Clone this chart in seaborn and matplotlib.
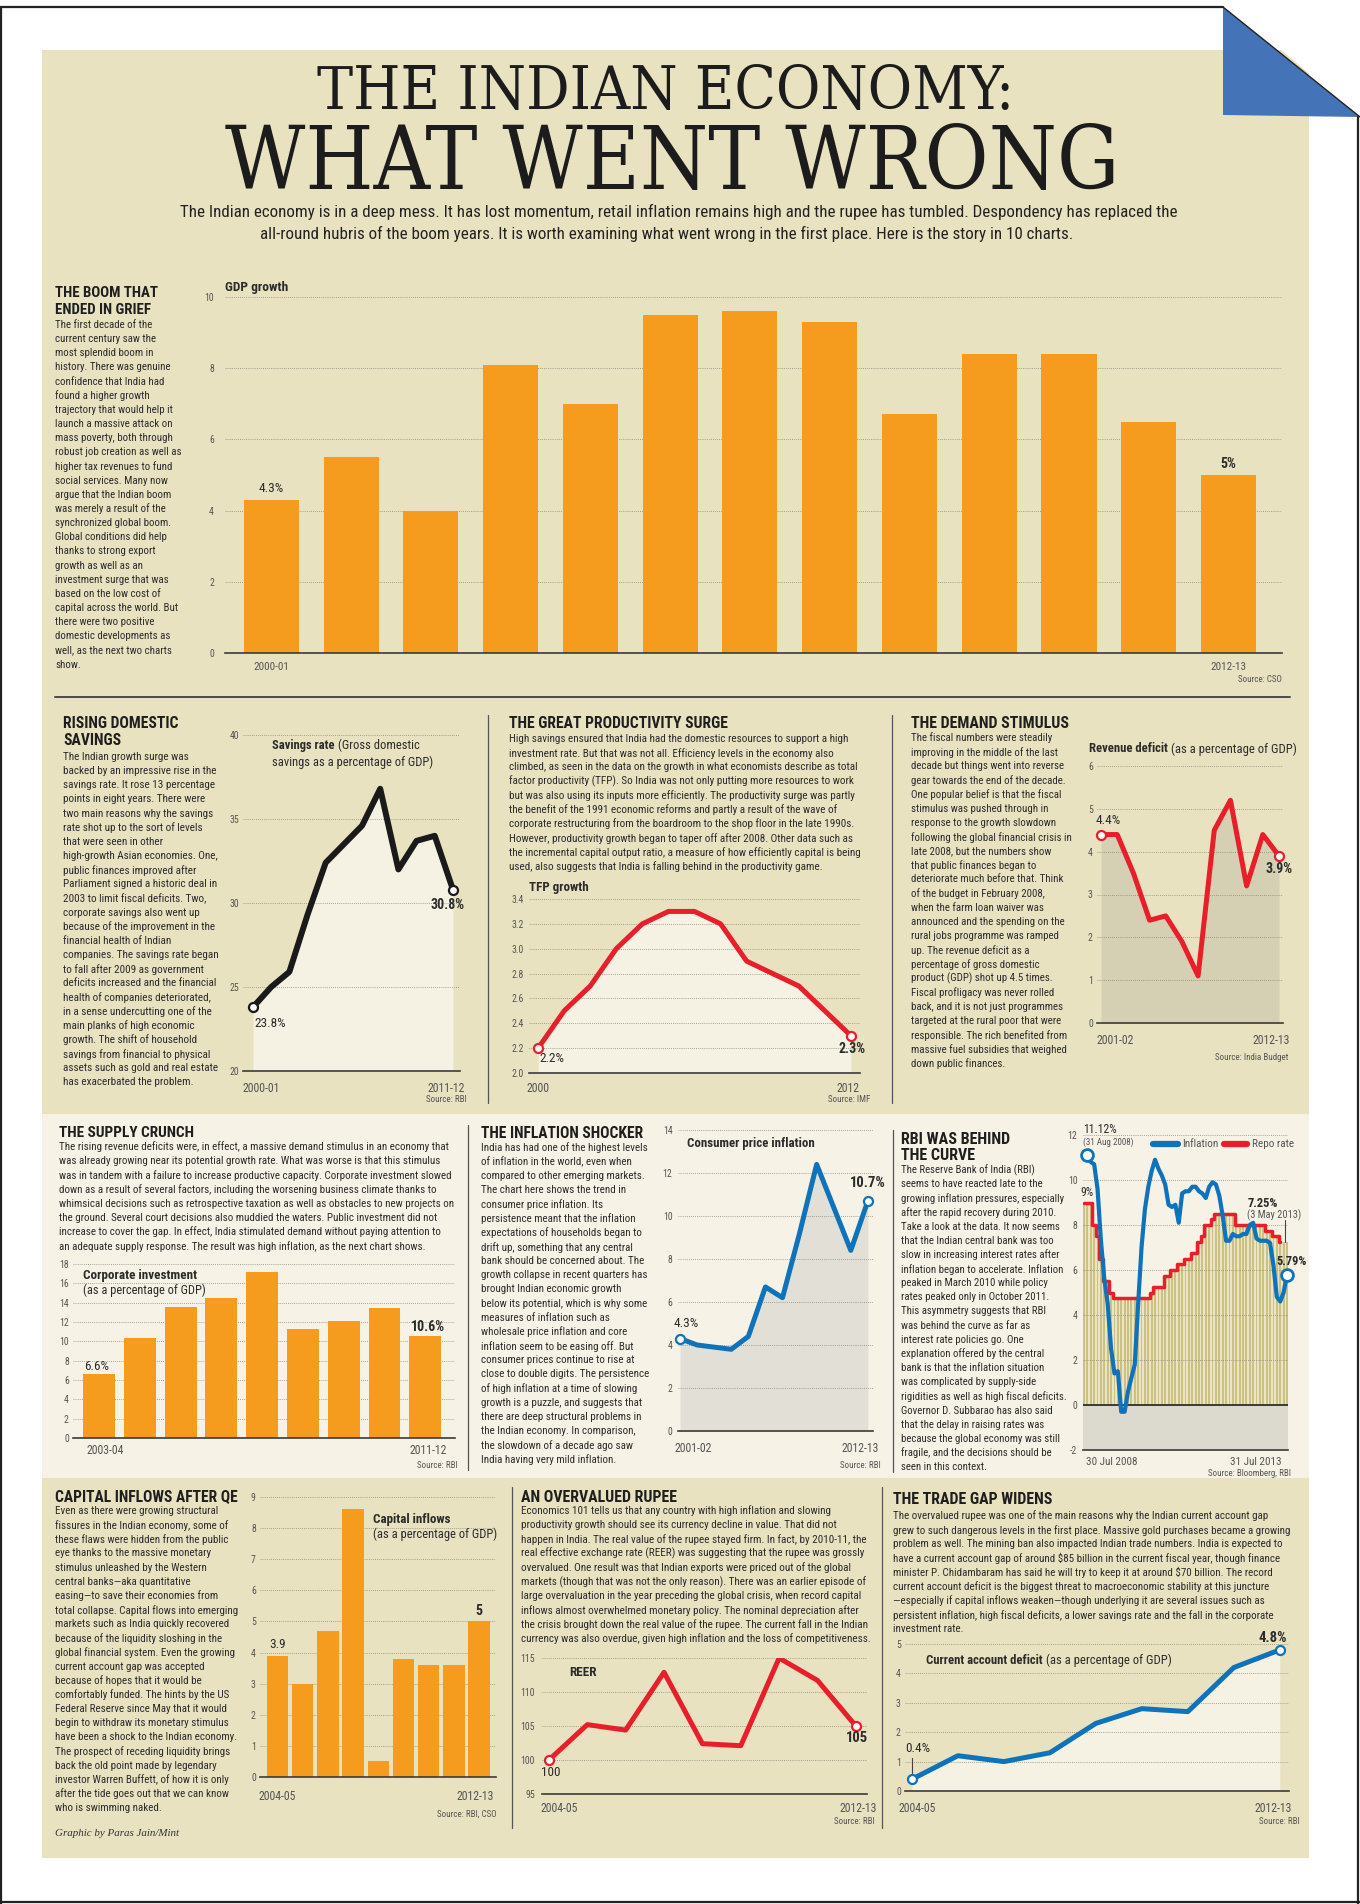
import os
import numpy as np
import pandas as pd
import matplotlib
matplotlib.use("Agg")
import matplotlib.pyplot as plt
import seaborn as sns
from matplotlib import font_manager as fm
from matplotlib.font_manager import FontProperties
from matplotlib.patches import Rectangle, Polygon
from matplotlib.lines import Line2D

# ---------------- data ----------------
gdp_years = ["2000-01", "2001-02", "2002-03", "2003-04", "2004-05", "2005-06", "2006-07",
             "2007-08", "2008-09", "2009-10", "2010-11", "2011-12", "2012-13"]
gdp_growth = [4.3, 5.5, 4.0, 8.1, 7.0, 9.5, 9.6, 9.3, 6.7, 8.4, 8.4, 6.5, 5.0]

savings_years = gdp_years[:12]
savings_rate = [23.8, 25.0, 25.9, 29.3, 32.4, 33.5, 34.6, 36.8, 32.0, 33.7, 34.0, 30.8]

tfp_years = [str(y) for y in range(2000, 2013)]
tfp_growth = [2.2, 2.5, 2.7, 3.0, 3.2, 3.3, 3.3, 3.2, 2.9, 2.8, 2.7, 2.5, 2.3]

deficit_years = gdp_years[1:]
revenue_deficit = [4.4, 4.4, 3.5, 2.4, 2.5, 1.9, 1.1, 4.5, 5.2, 3.2, 4.4, 3.9]

invest_years = gdp_years[3:12]
corp_investment = [6.6, 10.3, 13.6, 14.5, 17.2, 11.3, 12.1, 13.4, 10.6]

cpi_years = gdp_years[1:]
cpi_inflation = [4.3, 4.0, 3.9, 3.8, 4.4, 6.7, 6.2, 9.2, 12.4, 10.4, 8.4, 10.7]

rbi_months = pd.period_range("2008-07", "2013-07", freq="M")
repo_rate = [9.0, 9.0, 9.0, 8.0, 7.5, 6.5, 5.5, 5.5, 5.0, 4.75, 4.75, 4.75, 4.75, 4.75, 4.75,
             4.75, 4.75, 4.75, 4.75, 4.75, 5.0, 5.25, 5.25, 5.25, 5.75, 5.75, 6.0, 6.0, 6.25,
             6.25, 6.5, 6.5, 6.75, 6.75, 7.25, 7.5, 8.0, 8.0, 8.25, 8.5, 8.5, 8.5, 8.5, 8.5,
             8.5, 8.0, 8.0, 8.0, 8.0, 8.0, 8.0, 8.0, 8.0, 8.0, 7.75, 7.75, 7.5, 7.5, 7.25,
             7.25, 7.25]
# monthly inflation from Aug 2008
rbi_inflation = [11.12, 10.8, 10.7, 9.6, 7.3, 5.6, 4.5, 2.5, 1.4, 1.5, -0.3, -0.3, 0.6, 1.2,
                 1.8, 4.5, 7.0, 8.7, 9.7, 10.4, 10.9, 10.5, 10.2, 9.8, 8.9, 8.8, 8.9, 8.1,
                 9.4, 9.5, 9.5, 9.7, 9.7, 9.5, 9.4, 9.2, 9.7, 9.9, 9.8, 9.3, 8.4, 7.3, 7.3,
                 7.6, 7.5, 7.5, 7.6, 7.6, 8.0, 8.1, 7.4, 7.3, 7.3, 7.3, 7.2, 6.2, 4.8, 4.6,
                 5.0, 5.79]

flow_years = gdp_years[4:]
capital_inflows = [3.9, 3.0, 4.7, 8.6, 0.5, 3.8, 3.6, 3.6, 5.0]
reer = [100, 105.2, 104.4, 112.9, 102.4, 102.1, 115.0, 111.7, 105.0]
cad = [0.4, 1.2, 1.0, 1.3, 2.3, 2.8, 2.7, 4.2, 4.8]

# ---------------- text ----------------
gdp_text = """The first decade of the
current century saw the
most splendid boom in
history. There was genuine
confidence that India had
found a higher growth
trajectory that would help it
launch a massive attack on
mass poverty, both through
robust job creation as well as
higher tax revenues to fund
social services. Many now
argue that the Indian boom
was merely a result of the
synchronized global boom.
Global conditions did help
thanks to strong export
growth as well as an
investment surge that was
based on the low cost of
capital across the world. But
there were two positive
domestic developments as
well, as the next two charts
show.""".split("\n")

savings_text = """The Indian growth surge was
backed by an impressive rise in the
savings rate. It rose 13 percentage
points in eight years. There were
two main reasons why the savings
rate shot up to the sort of levels
that were seen in other
high-growth Asian economies. One,
public finances improved after
Parliament signed a historic deal in
2003 to limit fiscal deficits. Two,
corporate savings also went up
because of the improvement in the
financial health of Indian
companies. The savings rate began
to fall after 2009 as government
deficits increased and the financial
health of companies deteriorated,
in a sense undercutting one of the
main planks of high economic
growth. The shift of household
savings from financial to physical
assets such as gold and real estate
has exacerbated the problem.""".split("\n")

tfp_text = """High savings ensured that India had the domestic resources to support a high
investment rate. But that was not all. Efficiency levels in the economy also
climbed, as seen in the data on the growth in what economists describe as total
factor productivity (TFP). So India was not only putting more resources to work
but was also using its inputs more efficiently. The productivity surge was partly
the benefit of the 1991 economic reforms and partly a result of the wave of
corporate restructuring from the boardroom to the shop floor in the late 1990s.
However, productivity growth began to taper off after 2008. Other data such as
the incremental capital output ratio, a measure of how efficiently capital is being
used, also suggests that India is falling behind in the productivity game.""".split("\n")

demand_text = """The fiscal numbers were steadily
improving in the middle of the last
decade but things went into reverse
gear towards the end of the decade.
One popular belief is that the fiscal
stimulus was pushed through in
response to the growth slowdown
following the global financial crisis in
late 2008, but the numbers show
that public finances began to
deteriorate much before that. Think
of the budget in February 2008,
when the farm loan waiver was
announced and the spending on the
rural jobs programme was ramped
up. The revenue deficit as a
percentage of gross domestic
product (GDP) shot up 4.5 times.
Fiscal profligacy was never rolled
back, and it is not just programmes
targeted at the rural poor that were
responsible. The rich benefited from
massive fuel subsidies that weighed
down public finances.""".split("\n")

supply_text = """The rising revenue deficits were, in effect, a massive demand stimulus in an economy that
was already growing near its potential growth rate. What was worse is that this stimulus
was in tandem with a failure to increase productive capacity. Corporate investment slowed
down as a result of several factors, including the worsening business climate thanks to
whimsical decisions such as retrospective taxation as well as obstacles to new projects on
the ground. Several court decisions also muddied the waters. Public investment did not
increase to cover the gap. In effect, India stimulated demand without paying attention to
an adequate supply response. The result was high inflation, as the next chart shows.""".split("\n")

inflation_text = """India has had one of the highest levels
of inflation in the world, even when
compared to other emerging markets.
The chart here shows the trend in
consumer price inflation. Its
persistence meant that the inflation
expectations of households began to
drift up, something that any central
bank should be concerned about. The
growth collapse in recent quarters has
brought Indian economic growth
below its potential, which is why some
measures of inflation such as
wholesale price inflation and core
inflation seem to be easing off. But
consumer prices continue to rise at
close to double digits. The persistence
of high inflation at a time of slowing
growth is a puzzle, and suggests that
there are deep structural problems in
the Indian economy. In comparison,
the slowdown of a decade ago saw
India having very mild inflation.""".split("\n")

rbi_text = """The Reserve Bank of India (RBI)
seems to have reacted late to the
growing inflation pressures, especially
after the rapid recovery during 2010.
Take a look at the data. It now seems
that the Indian central bank was too
slow in increasing interest rates after
inflation began to accelerate. Inflation
peaked in March 2010 while policy
rates peaked only in October 2011.
This asymmetry suggests that RBI
was behind the curve as far as
interest rate policies go. One
explanation offered by the central
bank is that the inflation situation
was complicated by supply-side
rigidities as well as high fiscal deficits.
Governor D. Subbarao has also said
that the delay in raising rates was
because the global economy was still
fragile, and the decisions should be
seen in this context.""".split("\n")

capital_text = """Even as there were growing structural
fissures in the Indian economy, some of
these flaws were hidden from the public
eye thanks to the massive monetary
stimulus unleashed by the Western
central banks\u2014aka quantitative
easing\u2014to save their economies from
total collapse. Capital flows into emerging
markets such as India quickly recovered
because of the liquidity sloshing in the
global financial system. Even the growing
current account gap was accepted
because of hopes that it would be
comfortably funded. The hints by the US
Federal Reserve since May that it would
begin to withdraw its monetary stimulus
have been a shock to the Indian economy.
The prospect of receding liquidity brings
back the old point made by legendary
investor Warren Buffett, of how it is only
after the tide goes out that we can know
who is swimming naked.""".split("\n")

reer_text = """Economics 101 tells us that any country with high inflation and slowing
productivity growth should see its currency decline in value. That did not
happen in India. The real value of the rupee stayed firm. In fact, by 2010-11, the
real effective exchange rate (REER) was suggesting that the rupee was grossly
overvalued. One result was that Indian exports were priced out of the global
markets (though that was not the only reason). There was an earlier episode of
large overvaluation in the year preceding the global crisis, when record capital
inflows almost overwhelmed monetary policy. The nominal depreciation after
the crisis brought down the real value of the rupee. The current fall in the Indian
currency was also overdue, given high inflation and the loss of competitiveness.""".split("\n")

trade_text = """The overvalued rupee was one of the main reasons why the Indian current account gap
grew to such dangerous levels in the first place. Massive gold purchases became a growing
problem as well. The mining ban also impacted Indian trade numbers. India is expected to
have a current account gap of around $85 billion in the current fiscal year, though finance
minister P. Chidambaram has said he will try to keep it at around $70 billion. The record
current account deficit is the biggest threat to macroeconomic stability at this juncture
\u2014especially if capital inflows weaken\u2014though underlying it are several issues such as
persistent inflation, high fiscal deficits, a lower savings rate and the fall in the corporate
investment rate.""".split("\n")

# ---------------- fonts ----------------
BAD = ("italic", "oblique", "semi", "extra", "black", "light", "medium", "thin", "demi", "ultra")


def find_font(prefs, bold=False, bad=BAD):
    files = sorted({f.fname for f in fm.fontManager.ttflist})
    for p in prefs:
        for fn in files:
            b = os.path.basename(fn).lower().replace(" ", "").replace("_", "")
            if p in b and not any(k in b for k in bad) and (("bold" in b) == bold):
                return fn
    return None


sans_r = sans_b = None
for p in ["robotocondensed", "notosans-condensed", "opensanscondensed", "opensans-condensed",
          "liberationsansnarrow", "dejavusanscondensed"]:
    r, b = find_font([p]), find_font([p], bold=True)
    if r and b:
        sans_r, sans_b = r, b
        break
serif_r = (find_font(["notoserif-extracondensed."], bad=("italic", "bold", "light", "medium",
                                                          "black", "thin", "semi"))
           or find_font(["notoserif-condensed", "dejavuserifcondensed", "liberationserif-regular"]))

# ---------------- colours ----------------
W, H = 1360, 1904
BEIGE = "#e8e2c1"
LIGHT = "#f6f3e6"
PALE = "#f5f2e3"
ORANGE = "#f59c1f"
RED = "#e81f2b"
BLUE = "#0f73bb"
TXT = "#2b2b2b"
GREY = "#555555"

sns.set_theme(style="white")
plt.rcParams["font.family"] = ["Liberation Sans", "DejaVu Sans"]

fig = plt.figure(figsize=(W / 100, H / 100), dpi=100, facecolor="white")
R = fig.canvas.get_renderer()


def fx(x):
    return x / W


def fy(y):
    return 1 - y / H


def fp(bold=False, size=8.0):
    f = sans_b if bold else sans_r
    if f:
        return FontProperties(fname=f, size=size)
    return FontProperties(family="Liberation Sans", weight="bold" if bold else "normal", size=size)


def put(x, y, s, size=8.0, bold=False, ha="left", va="center", color=TXT, width=None, prop=None):
    t = fig.text(fx(x), fy(y), s, fontproperties=prop if prop is not None else fp(bold, size),
                 ha=ha, va=va, color=color, parse_math=False, zorder=5)
    t.set_fontsize(size)
    if width:
        t.set_fontsize(size * width / t.get_window_extent(R).width)
    return t


def block(x, y, lines, width, size=8.5, gap=14.15, bold=False, color=TXT):
    ts = [put(x, y + i * gap, s, size, bold=bold, color=color) for i, s in enumerate(lines)]
    k = min(width / max(t.get_window_extent(R).width for t in ts), 1.35)
    for t in ts:
        t.set_fontsize(size * k)
    return size * k


def rich(x, y, parts, size, width, color=TXT):
    ts = [put(x, y, s, size, bold=b, color=color) for s, b in parts]
    ws = [t.get_window_extent(R).width for t in ts]
    gap = 0.25 * size * 100 / 72
    k = width / (sum(ws) + gap * (len(ws) - 1))
    cx = x
    for t, w in zip(ts, ws):
        t.set_fontsize(size * k)
        t.set_x(fx(cx))
        cx += (w + gap) * k
    return size * k


def make_ax(l, t, r, b):
    ax = fig.add_axes([fx(l), fy(b), (r - l) / W, (b - t) / H])
    ax.set_facecolor("none")
    return ax


def style_ax(ax, xlim, ylim, yticks, n, pad=3, ysize=7, fmt="{:g}"):
    ax.set_xlim(*xlim)
    ax.set_ylim(*ylim)
    ax.set_xticks(range(n))
    ax.set_xticklabels([])
    ax.set_yticks(list(yticks))
    ax.set_yticklabels([fmt.format(v) for v in yticks])
    for lab_ in ax.get_yticklabels():
        lab_.set_fontproperties(fp(False, ysize))
        lab_.set_color(GREY)
    ax.tick_params(axis="y", length=0, pad=pad)
    ax.tick_params(axis="x", length=4, width=1, color="#444444", direction="out", pad=0)
    for s in ("top", "left", "right"):
        ax.spines[s].set_visible(False)
    ax.spines["bottom"].set_color("#3a3a3a")
    ax.spines["bottom"].set_linewidth(1.2)
    ax.grid(axis="y", color="#8c887a", linestyle=(0, (1, 1.5)), linewidth=0.6)
    ax.grid(axis="x", visible=False)
    ax.set_axisbelow(True)
    ax.set_xlabel("")
    ax.set_ylabel("")


def lab(ax, x, y, s, dx, dy, bold=False, size=9.5, ha="center", color=TXT):
    ax.annotate(s, (x, y), xytext=(dx, dy), textcoords="offset pixels", ha=ha, va="center",
                fontproperties=fp(bold, size), color=color, parse_math=False,
                annotation_clip=False, zorder=6)


def xends(ax, xs, labels, dy, dxs=(0, 0), size=8.5, has=("center", "center")):
    for x, s, dx, ha in zip(xs, labels, dxs, has):
        ax.annotate(s, (x, 0), xycoords=("data", "axes fraction"), xytext=(dx, -dy),
                    textcoords="offset pixels", ha=ha, va="center", fontproperties=fp(False, size),
                    color=GREY, annotation_clip=False)


def ends(ax, xs, ys, color, ms=6.5, mew=1.6):
    ax.plot([xs[0], xs[-1]], [ys[0], ys[-1]], "o", ms=ms, mfc="white", mec=color, mew=mew,
            zorder=6, clip_on=False)


def fline(x0, y0, x1, y1, color="#444444", lw=1.0, z=2, **kw):
    fig.add_artist(Line2D([fx(x0), fx(x1)], [fy(y0), fy(y1)], transform=fig.transFigure,
                          color=color, lw=lw, zorder=z, **kw))


# ---------------- page ----------------
fig.add_artist(Rectangle((fx(42), fy(1858)), (1309 - 42) / W, (1858 - 50) / H,
                         transform=fig.transFigure, color=BEIGE, lw=0, zorder=-3))
fig.add_artist(Rectangle((fx(42), fy(1478)), (1309 - 42) / W, (1478 - 1114) / H,
                         transform=fig.transFigure, color=LIGHT, lw=0, zorder=-2))
fig.add_artist(Polygon([(fx(1223), fy(0)), (fx(1360), fy(0)), (fx(1360), fy(117))],
                       transform=fig.transFigure, color="white", lw=0, zorder=-1))
fig.add_artist(Polygon([(fx(1223), fy(7)), (fx(1223), fy(115)), (fx(1360), fy(117))],
                       transform=fig.transFigure, color="#4473b7", lw=0, zorder=-1))
fline(0, 7, 1223, 7, color="#222222", lw=1.6)
fline(1223, 7, 1360, 117, color="#222222", lw=1.0)
fline(1, 7, 1, 1904, color="#222222", lw=1.6)
fline(1358, 117, 1358, 1904, color="#222222", lw=1.6)
fline(0, 1902, 1360, 1902, color="#222222", lw=1.6)

# separators
fline(55, 697, 1290, 697, color="#4a4a4a", lw=1.4)
for x, y0, y1 in [(488, 715, 1103), (892, 715, 1103), (468, 1125, 1470), (893, 1130, 1472),
                  (512, 1487, 1828), (882, 1487, 1828)]:
    fline(x, y0, x, y1, color="#555555", lw=0.9)

# title
serif = FontProperties(fname=serif_r) if serif_r else FontProperties(family="Liberation Serif")
put(666, 109, "THE INDIAN ECONOMY:", 40, va="baseline", ha="center", prop=serif, width=697,
    color="#1c1c1c")
put(672, 189, "WHAT WENT WRONG", 60, va="baseline", ha="center", prop=serif, width=895,
    color="#1c1c1c")
t1 = put(679, 212, "The Indian economy is in a deep mess. It has lost momentum, retail inflation "
         "remains high and the rupee has tumbled. Despondency has replaced the", 11, ha="center",
         width=993, color="#222222")
put(667, 234, "all-round hubris of the boom years. It is worth examining what went wrong in the "
    "first place. Here is the story in 10 charts.", t1.get_fontsize(), ha="center", color="#222222")

# headings
for x, y, lines, w in [(55, 293, ["THE BOOM THAT", "ENDED IN GRIEF"], 103),
                       (63, 724, ["RISING DOMESTIC", "SAVINGS"], 115),
                       (509, 724, ["THE GREAT PRODUCTIVITY SURGE"], 219),
                       (911, 724, ["THE DEMAND STIMULUS"], 158),
                       (59, 1133, ["THE SUPPLY CRUNCH"], 135),
                       (481, 1133, ["THE INFLATION SHOCKER"], 163),
                       (901, 1139, ["RBI WAS BEHIND", "THE CURVE"], 109),
                       (55, 1497, ["CAPITAL INFLOWS AFTER QE"], 183),
                       (521, 1497, ["AN OVERVALUED RUPEE"], 156),
                       (893, 1499, ["THE TRADE GAP WIDENS"], 160)]:
    block(x, y, lines, w, size=12.5, gap=16.6, bold=True, color="#1e1e1e")

# body text
block(55, 325, gdp_text, 126)
block(63, 757, savings_text, 155)
block(509, 739, tfp_text, 350)
block(911, 738, demand_text, 160)
block(59, 1147, supply_text, 394)
block(481, 1148, inflation_text, 168)
block(901, 1170, rbi_text, 166)
block(55, 1511, capital_text, 182)
block(521, 1511, reer_text, 347)
block(893, 1516, trade_text, 396)
put(55, 1833, "Graphic by Paras Jain/Mint", 9,
    prop=FontProperties(family="Liberation Serif", style="italic"), width=125, color="#333333")

# ---------------- 1. GDP growth ----------------
ax = make_ax(225, 297, 1282, 653)
sns.barplot(x=gdp_years, y=gdp_growth, color=ORANGE, saturation=1, width=0.69, errorbar=None,
            linewidth=0, ax=ax)
style_ax(ax, (-0.58, 12.67), (0, 10), range(0, 11, 2), len(gdp_years), pad=8, ysize=7)
lab(ax, 0, gdp_growth[0], f"{gdp_growth[0]:g}%", 0, 11, size=9.5)
lab(ax, 12, gdp_growth[-1], f"{gdp_growth[-1]:g}%", 0, 11, bold=True, size=10)
xends(ax, [0, 12], [gdp_years[0], gdp_years[-1]], dy=14, size=8)
put(225, 288, "GDP growth", 8.5, bold=True, width=62)
put(1282, 679, "Source: CSO", 6.5, ha="right", color=GREY)

# ---------------- 2. savings ----------------
ax = make_ax(243, 735, 460, 1071)
xs = np.arange(len(savings_rate))
ax.fill_between(xs, savings_rate, 20, color=PALE, lw=0, zorder=0.2)
sns.lineplot(x=xs, y=savings_rate, color="#1a1a1a", linewidth=4.3, ax=ax)
ends(ax, xs, savings_rate, "#1a1a1a")
style_ax(ax, (-0.55, 11.39), (20, 40), range(20, 41, 5), len(xs), pad=3)
lab(ax, 0, savings_rate[0], f"{savings_rate[0]:g}%", 17, -16)
lab(ax, 11, savings_rate[-1], f"{savings_rate[-1]:g}%", -5, -15, bold=True, size=10)
xends(ax, [0, 11], [savings_years[0], savings_years[-1]], dy=17, dxs=(8, -7))
s = rich(272, 745, [("Savings rate", True), ("(Gross domestic", False)], 9.5, 148)
put(272, 762, "savings as a percentage of GDP)", s)
put(467, 1099, "Source: RBI", 6.5, ha="right", color=GREY)

# ---------------- 3. TFP ----------------
ax = make_ax(529, 899, 860, 1073)
xs = np.arange(len(tfp_growth))
ax.fill_between(xs, tfp_growth, 2.0, color=PALE, lw=0, zorder=0.2)
sns.lineplot(x=xs, y=tfp_growth, color=RED, linewidth=3.6, ax=ax)
ends(ax, xs, tfp_growth, RED)
style_ax(ax, (-0.35, 12.35), (2.0, 3.4), np.round(np.arange(2.0, 3.41, 0.2), 1), len(xs),
         pad=4, fmt="{:.1f}")
lab(ax, 0, tfp_growth[0], f"{tfp_growth[0]:g}%", 14, -10)
lab(ax, 12, tfp_growth[-1], f"{tfp_growth[-1]:g}%", 1, -13, bold=True, size=10)
xends(ax, [0, 12], [tfp_years[0], tfp_years[-1]], dy=15, dxs=(0, -3))
put(529, 888, "TFP growth", 9, bold=True, width=60)
put(870, 1099, "Source: IMF", 6.5, ha="right", color=GREY)

# ---------------- 4. revenue deficit ----------------
ax = make_ax(1097, 766, 1283, 1023)
xs = np.arange(len(revenue_deficit))
ax.fill_between(xs, revenue_deficit, 0, color="#d5d0b3", lw=0, zorder=0.2)
sns.lineplot(x=xs, y=revenue_deficit, color=RED, linewidth=3.6, ax=ax)
ends(ax, xs, revenue_deficit, RED)
style_ax(ax, (-0.25, 11.25), (0, 6), range(0, 7), len(xs), pad=3)
lab(ax, 0, revenue_deficit[0], f"{revenue_deficit[0]:g}%", 7, 14)
lab(ax, 11, revenue_deficit[-1], f"{revenue_deficit[-1]:g}%", 0, -13, bold=True, size=10)
xends(ax, [0, 11], [deficit_years[0], deficit_years[-1]], dy=17, dxs=(14, -8))
rich(1089, 749, [("Revenue deficit", True), ("(as a percentage of GDP)", False)], 9.5, 207)
put(1288, 1057, "Source: India Budget", 6.5, ha="right", color=GREY)

# ---------------- 5. corporate investment ----------------
ax = make_ax(73, 1264, 455, 1438)
sns.barplot(x=invest_years, y=corp_investment, color=ORANGE, saturation=1, width=0.78,
            errorbar=None, linewidth=0, ax=ax)
style_ax(ax, (-0.64, 8.73), (0, 18), range(0, 19, 2), len(invest_years), pad=3)
lab(ax, 0, corp_investment[0], f"{corp_investment[0]:g}%", -2, 8)
lab(ax, 8, corp_investment[-1], f"{corp_investment[-1]:g}%", 3, 9, bold=True, size=10)
xends(ax, [0, 8], [invest_years[0], invest_years[-1]], dy=13, dxs=(6, 3))
put(83, 1276, "Corporate investment", 9.5, bold=True, width=114)
put(83, 1290, "(as a percentage of GDP)", 9.5, width=123)
put(458, 1465, "Source: RBI", 6.5, ha="right", color=GREY)

# ---------------- 6. consumer price inflation ----------------
ax = make_ax(678, 1130, 873, 1431)
xs = np.arange(len(cpi_inflation))
ax.fill_between(xs, cpi_inflation, 0, color="#e2e0d6", lw=0, zorder=0.2)
sns.lineplot(x=xs, y=cpi_inflation, color=BLUE, linewidth=3.6, ax=ax)
ends(ax, xs, cpi_inflation, BLUE)
style_ax(ax, (-0.12, 11.3), (0, 14), range(0, 15, 2), len(xs), pad=4)
lab(ax, 0, cpi_inflation[0], f"{cpi_inflation[0]:g}%", 6, 15)
lab(ax, 11, cpi_inflation[-1], f"{cpi_inflation[-1]:g}%", 0, 18, bold=True, size=10.5)
xends(ax, [0, 11], [cpi_years[0], cpi_years[-1]], dy=18, dxs=(13, -8))
put(687, 1144, "Consumer price inflation", 9.5, bold=True, width=128)
put(881, 1465, "Source: RBI", 6.5, ha="right", color=GREY)

# ---------------- 7. RBI behind the curve ----------------
ax = make_ax(1083, 1135, 1288, 1450)
idx = np.arange(len(rbi_months))
ax.axhspan(-2, 0, color="#dcd9ce", lw=0, zorder=0.1)
ax.fill_between(idx, repo_rate, 0, step="mid", color="#ebe5c4", lw=0, zorder=0.2)
ax.bar(idx, repo_rate, width=0.55, color="#cbc185", lw=0, zorder=0.3)
ax.axhline(0, color="#222222", lw=1.2, zorder=2)
sns.lineplot(x=idx[:59], y=repo_rate[:59], drawstyle="steps-mid", color=RED, linewidth=2.5, ax=ax)
sns.lineplot(x=idx[1:], y=rbi_inflation, color=BLUE, linewidth=3.0, ax=ax)
ax.plot([idx[1], idx[-1]], [rbi_inflation[0], rbi_inflation[-1]], "o", ms=8.5, mfc="white",
        mec=BLUE, mew=2, zorder=6, clip_on=False)
style_ax(ax, (-0.3, 60.3), (-2, 12), range(-2, 13, 2), len(idx), pad=4)
ax.set_xticks([0, 60])
ax.set_xticklabels([])
ax.set_xticks(idx, minor=True)
ax.tick_params(axis="x", which="major", length=11, width=1, color="#444444")
ax.tick_params(axis="x", which="minor", length=4, width=0.8, color="#444444")
lab(ax, 1, rbi_inflation[0], f"{rbi_inflation[0]:.2f}%", -4, 25, ha="left", size=8.5)
lab(ax, 1, rbi_inflation[0], "(31 Aug 2008)", -4, 13, ha="left", size=6.5, color=GREY)
lab(ax, 0, repo_rate[0], f"{repo_rate[0]:g}%", -4, 10, ha="left", size=8.5)
lab(ax, 58, repo_rate[58], f"{repo_rate[58]:g}%", -33, 38, ha="left", bold=True, size=9)
lab(ax, 58, repo_rate[58], "(3 May 2013)", -33, 27, ha="left", size=7.5, color=GREY)
lab(ax, 60, rbi_inflation[-1], f"{rbi_inflation[-1]:g}%", 5, 13, bold=True, size=9)
xends(ax, [0, 60], ["30 Jul 2008", "31 Jul 2013"], dy=12, dxs=(2, -5), size=8,
      has=("left", "right"))
fline(1285, 1220, 1285, 1242, color="#444444", lw=0.8)
fline(1153, 1144, 1178, 1144, color=BLUE, lw=4.5, solid_capstyle="round")
put(1182, 1144, "Inflation", 8, color=GREY)
fline(1224, 1144, 1247, 1144, color=RED, lw=4.5)
put(1252, 1144, "Repo rate", 8, color=GREY)
put(1291, 1473, "Source: Bloomberg, RBI", 6.5, ha="right", color=GREY)

# ---------------- 8. capital inflows ----------------
ax = make_ax(260, 1497, 496, 1777)
sns.barplot(x=flow_years, y=capital_inflows, color=ORANGE, saturation=1, width=0.85,
            errorbar=None, linewidth=0, ax=ax)
style_ax(ax, (-0.69, 8.67), (0, 9), range(0, 10), len(flow_years), pad=3)
lab(ax, 0, capital_inflows[0], f"{capital_inflows[0]:g}", 0, 11)
lab(ax, 8, capital_inflows[-1], f"{capital_inflows[-1]:g}", 0, 10, bold=True, size=10)
xends(ax, [0, 8], [flow_years[0], flow_years[-1]], dy=19, dxs=(0, -4))
put(373, 1520, "Capital inflows", 9.5, bold=True, width=78)
put(373, 1534, "(as a percentage of GDP)", 9.5, width=124)
put(497, 1814, "Source: RBI, CSO", 6.5, ha="right", color=GREY)

# ---------------- 9. REER ----------------
ax = make_ax(542, 1658, 867, 1794)
xs = np.arange(len(reer))
sns.lineplot(x=xs, y=reer, color=RED, linewidth=3.6, ax=ax)
ends(ax, xs, reer, RED)
style_ax(ax, (-0.18, 8.29), (95, 115), range(95, 116, 5), len(xs), pad=5)
lab(ax, 0, reer[0], f"{reer[0]:g}", 2, -13)
lab(ax, 8, reer[-1], f"{reer[-1]:g}", 1, -12, bold=True, size=10.5)
xends(ax, [0, 8], [flow_years[0], flow_years[-1]], dy=14, dxs=(10, 2))
put(569, 1672, "REER", 9.5, bold=True)
put(875, 1822, "Source: RBI", 6.5, ha="right", color=GREY)

# ---------------- 10. current account deficit ----------------
ax = make_ax(905, 1644, 1289, 1791)
xs = np.arange(len(cad))
ax.fill_between(xs, cad, 0, color=PALE, lw=0, zorder=0.2)
sns.lineplot(x=xs, y=cad, color=BLUE, linewidth=3.6, ax=ax)
ends(ax, xs, cad, BLUE)
style_ax(ax, (-0.15, 8.2), (0, 5), range(0, 6), len(xs), pad=3)
lab(ax, 0, cad[0], f"{cad[0]:g}%", 6, 31)
lab(ax, 8, cad[-1], f"{cad[-1]:g}%", -7, 12, bold=True, size=10.5)
xends(ax, [0, 8], [flow_years[0], flow_years[-1]], dy=17, dxs=(5, -7))
fline(912, 1758, 912, 1773, color="#444444", lw=0.8)
rich(926, 1660, [("Current account deficit", True), ("(as a percentage of GDP)", False)], 9.5, 245)
put(1300, 1822, "Source: RBI", 6.5, ha="right", color=GREY)

fig.savefig("out.png", dpi=100, facecolor="white")
